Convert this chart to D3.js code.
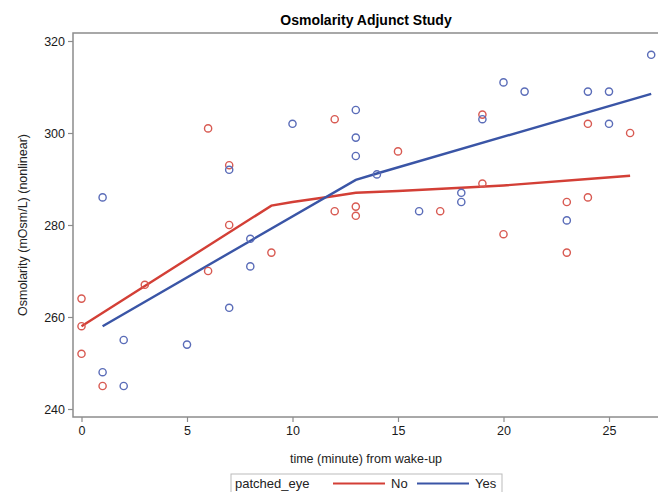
<!DOCTYPE html>
<html>
<head>
<meta charset="utf-8">
<script src="https://cdn.jsdelivr.net/npm/d3@7"></script>
<style>
  html, body { margin: 0; padding: 0; background: #fff; overflow: hidden; }
  svg { display: block; font-family: "Liberation Sans", Arial, sans-serif; }
</style>
</head>
<body>
<div id="chart"></div>
<script>
// raw observations, patched_eye = No
const noTime = [0, 0, 0, 1, 3, 6, 6, 7, 7, 9, 12, 12, 13, 13, 15, 17, 19, 19, 20, 23, 23, 24, 24, 26];
const noOsm  = [264, 258, 252, 245, 267, 301, 270, 293, 280, 274, 303, 283, 284, 282, 296, 283, 304, 289, 278, 285, 274, 302, 286, 300];

// raw observations, patched_eye = Yes
const yesTime = [1, 1, 2, 2, 5, 7, 7, 8, 8, 10, 13, 13, 13, 14, 16, 18, 18, 19, 20, 21, 23, 24, 25, 25, 27];
const yesOsm  = [286, 248, 255, 245, 254, 292, 262, 277, 271, 302, 305, 299, 295, 291, 283, 287, 285, 303, 311, 309, 281, 309, 309, 302, 317];

// fitted nonlinear curves
const noFitTime  = [0, 9, 10, 12, 13, 15, 18, 20, 24, 26];
const noFitOsm   = [258, 284.2, 285, 286.3, 287, 287.4, 288.1, 288.6, 290, 290.7];
const yesFitTime = [1, 13, 14, 27];
const yesFitOsm  = [258, 289.8, 291.2, 308.5];

const xTicks = [0, 5, 10, 15, 20, 25];
const yTicks = [240, 260, 280, 300, 320];
const legendLabels = ["No", "Yes"];

const W = 658, H = 492;
const plot = { left: 73, top: 33, right: 661, bottom: 417 };
const RED = "#d33f36", BLUE = "#3a55a6";
const RED_PT = "#d85a52", BLUE_PT = "#5a6cb8";

const x = d3.scaleLinear().domain([0, 25]).range([81.5, 609]);
const y = d3.scaleLinear().domain([240, 320]).range([409, 41]);

const svg = d3.select("#chart").append("svg").attr("width", W).attr("height", H);

// title
svg.append("text")
  .attr("x", 366).attr("y", 25)
  .attr("text-anchor", "middle")
  .attr("font-size", 14).attr("font-weight", "bold")
  .attr("fill", "#000")
  .text("Osmolarity Adjunct Study");

// frame
svg.append("rect")
  .attr("x", plot.left).attr("y", plot.top)
  .attr("width", plot.right - plot.left).attr("height", plot.bottom - plot.top)
  .attr("fill", "none").attr("stroke", "#8c8c8c").attr("stroke-width", 1.5);

// axes
const xAxis = d3.axisBottom(x).tickValues(xTicks).tickSize(5).tickPadding(4);
const yAxis = d3.axisLeft(y).tickValues(yTicks).tickSize(5).tickPadding(3);

const gx = svg.append("g").attr("transform", `translate(0,${plot.bottom})`).call(xAxis);
const gy = svg.append("g").attr("transform", `translate(${plot.left},0)`).call(yAxis);
[gx, gy].forEach(g => {
  g.select(".domain").remove();
  g.selectAll(".tick line").attr("stroke", "#8c8c8c").attr("stroke-width", 1.2);
  g.selectAll(".tick text")
    .attr("fill", "#1a1a1a").attr("font-size", 12.5)
    .attr("font-family", "'Liberation Sans', Arial, sans-serif");
});

// axis titles
svg.append("text")
  .attr("x", 366).attr("y", 463)
  .attr("text-anchor", "middle").attr("font-size", 12.5).attr("fill", "#222")
  .text("time (minute) from wake-up");

svg.append("text")
  .attr("transform", `translate(27,${(plot.top + plot.bottom) / 2}) rotate(-90)`)
  .attr("text-anchor", "middle").attr("font-size", 12.5).attr("fill", "#222")
  .text("Osmolarity (mOsm/L) (nonlinear)");

// clip to plot area
svg.append("clipPath").attr("id", "clip")
  .append("rect").attr("x", plot.left).attr("y", plot.top)
  .attr("width", plot.right - plot.left).attr("height", plot.bottom - plot.top);
const g = svg.append("g").attr("clip-path", "url(#clip)");

const line = d3.line().x(d => x(d[0])).y(d => y(d[1]));

g.append("path")
  .datum(noFitTime.map((t, i) => [t, noFitOsm[i]]))
  .attr("d", line).attr("fill", "none")
  .attr("stroke", RED).attr("stroke-width", 2.4);

g.append("path")
  .datum(yesFitTime.map((t, i) => [t, yesFitOsm[i]]))
  .attr("d", line).attr("fill", "none")
  .attr("stroke", BLUE).attr("stroke-width", 2.4);

function points(times, vals, color) {
  g.append("g").selectAll("circle")
    .data(times.map((t, i) => [t, vals[i]]))
    .join("circle")
    .attr("cx", d => x(d[0])).attr("cy", d => y(d[1]))
    .attr("r", 3.6)
    .attr("fill", "none").attr("stroke", color).attr("stroke-width", 1.4);
}
points(noTime, noOsm, RED_PT);
points(yesTime, yesOsm, BLUE_PT);

// legend
const leg = svg.append("g");
leg.append("rect")
  .attr("x", 231).attr("y", 474).attr("width", 271).attr("height", 24)
  .attr("fill", "#fff").attr("stroke", "#bbb").attr("stroke-width", 1);
leg.append("text")
  .attr("x", 235).attr("y", 487.5).attr("font-size", 13).attr("fill", "#222")
  .text("patched_eye");
const legItems = [
  { label: legendLabels[0], color: RED, x0: 333, x1: 385, tx: 391 },
  { label: legendLabels[1], color: BLUE, x0: 417, x1: 469, tx: 475 }
];
legItems.forEach(it => {
  leg.append("line")
    .attr("x1", it.x0).attr("x2", it.x1).attr("y1", 483.5).attr("y2", 483.5)
    .attr("stroke", it.color).attr("stroke-width", 2);
  leg.append("text")
    .attr("x", it.tx).attr("y", 487.5).attr("font-size", 13).attr("fill", "#222")
    .text(it.label);
});
</script>
</body>
</html>
